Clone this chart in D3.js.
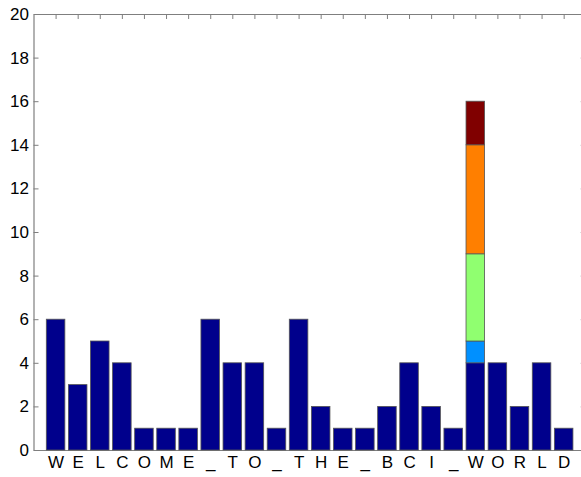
<!DOCTYPE html>
<html>
<head>
<meta charset="utf-8">
<script src="https://cdn.jsdelivr.net/npm/d3@7"></script>
<style>
  html, body { margin: 0; padding: 0; background: #fff; }
  svg { display: block; }
  .tick text { font-family: "Liberation Sans", Arial, Helvetica, sans-serif; }
</style>
</head>
<body>
<svg id="chart" width="581" height="477"></svg>
<script>
// Letters along the x axis
const letters = ["W","E","L","C","O","M","E","_","T","O","_","T","H","E","_","B","C","I","_","W","O","R","L","D"];
// Base (navy) segment height of each bar
const baseValues = [6,3,5,4,1,1,1,6,4,4,1,6,2,1,1,2,4,2,1,4,4,2,4,1];
// Extra stacked segments on the second "W" (index 19)
const stackIndex = 19;
const stackValues = [1,4,5,2];
const stackColors = ["#0090ff","#90ff70","#ff7f00","#800000"];
const baseColor = "#00008c";
const yTicks = [0,2,4,6,8,10,12,14,16,18,20];

const svg = d3.select("#chart");
const mLeft = 33.5, mTop = 14, mBottom = 450;
const n = letters.length;
const step = 22.09;
const mRight = mLeft + (n + 1) * step;

// Positions run 1..n, domain padded by one on each side
const x = d3.scaleLinear().domain([0, n + 1]).range([mLeft, mRight]);
const y = d3.scaleLinear().domain([0, 20]).range([mBottom, mTop]);
const bw = (x(1) - x(0)) * 0.84;

const axisColor = "#7f7f7f";
const labelSize = 17;

// Bars
const bars = svg.append("g");
letters.forEach((l, i) => {
  const cx = x(i + 1);
  bars.append("rect")
    .attr("x", cx - bw / 2).attr("width", bw)
    .attr("y", y(baseValues[i])).attr("height", y(0) - y(baseValues[i]))
    .attr("fill", baseColor).attr("stroke", "#555").attr("stroke-width", 0.8);
});
let acc = baseValues[stackIndex];
stackValues.forEach((v, k) => {
  const cx = x(stackIndex + 1);
  bars.append("rect")
    .attr("x", cx - bw / 2).attr("width", bw)
    .attr("y", y(acc + v)).attr("height", y(acc) - y(acc + v))
    .attr("fill", stackColors[k]).attr("stroke", "#555").attr("stroke-width", 0.8);
  acc += v;
});

// Left axis with inward ticks
const yAxis = d3.axisLeft(y).tickValues(yTicks).tickSize(-5).tickPadding(4.5).tickSizeOuter(0);
const gy = svg.append("g").attr("transform", `translate(${mLeft},0)`).call(yAxis);
gy.attr("font-size", labelSize);
gy.selectAll("text").style("font-size", labelSize + "px").attr("fill", "#000");

// Right axis (ticks only, pointing inward)
const gyr = svg.append("g").attr("transform", `translate(${mRight},0)`)
  .call(d3.axisRight(y).tickValues(yTicks).tickSize(-5).tickFormat("").tickSizeOuter(0));

// Bottom axis with letters
const xAxis = d3.axisBottom(x).tickValues(d3.range(1, n + 1))
  .tickFormat((d) => letters[d - 1]).tickSize(-5).tickPadding(6).tickSizeOuter(0);
const gx = svg.append("g").attr("transform", `translate(0,${mBottom})`).call(xAxis);
gx.attr("font-size", labelSize);
gx.selectAll("text").style("font-size", labelSize + "px").attr("fill", "#000");

// Top axis (ticks only, pointing inward)
const gxt = svg.append("g").attr("transform", `translate(0,${mTop})`)
  .call(d3.axisTop(x).tickValues(d3.range(1, n + 1)).tickSize(-5).tickFormat("").tickSizeOuter(0));

[gy, gyr, gx, gxt].forEach(g => {
  g.selectAll(".domain").attr("stroke", axisColor).attr("stroke-width", 1.2);
  g.selectAll(".tick line").attr("stroke", axisColor);
});
// Bars sit above the bottom tick marks
bars.raise();
gy.raise();
gx.select(".domain").raise();
</script>
</body>
</html>
